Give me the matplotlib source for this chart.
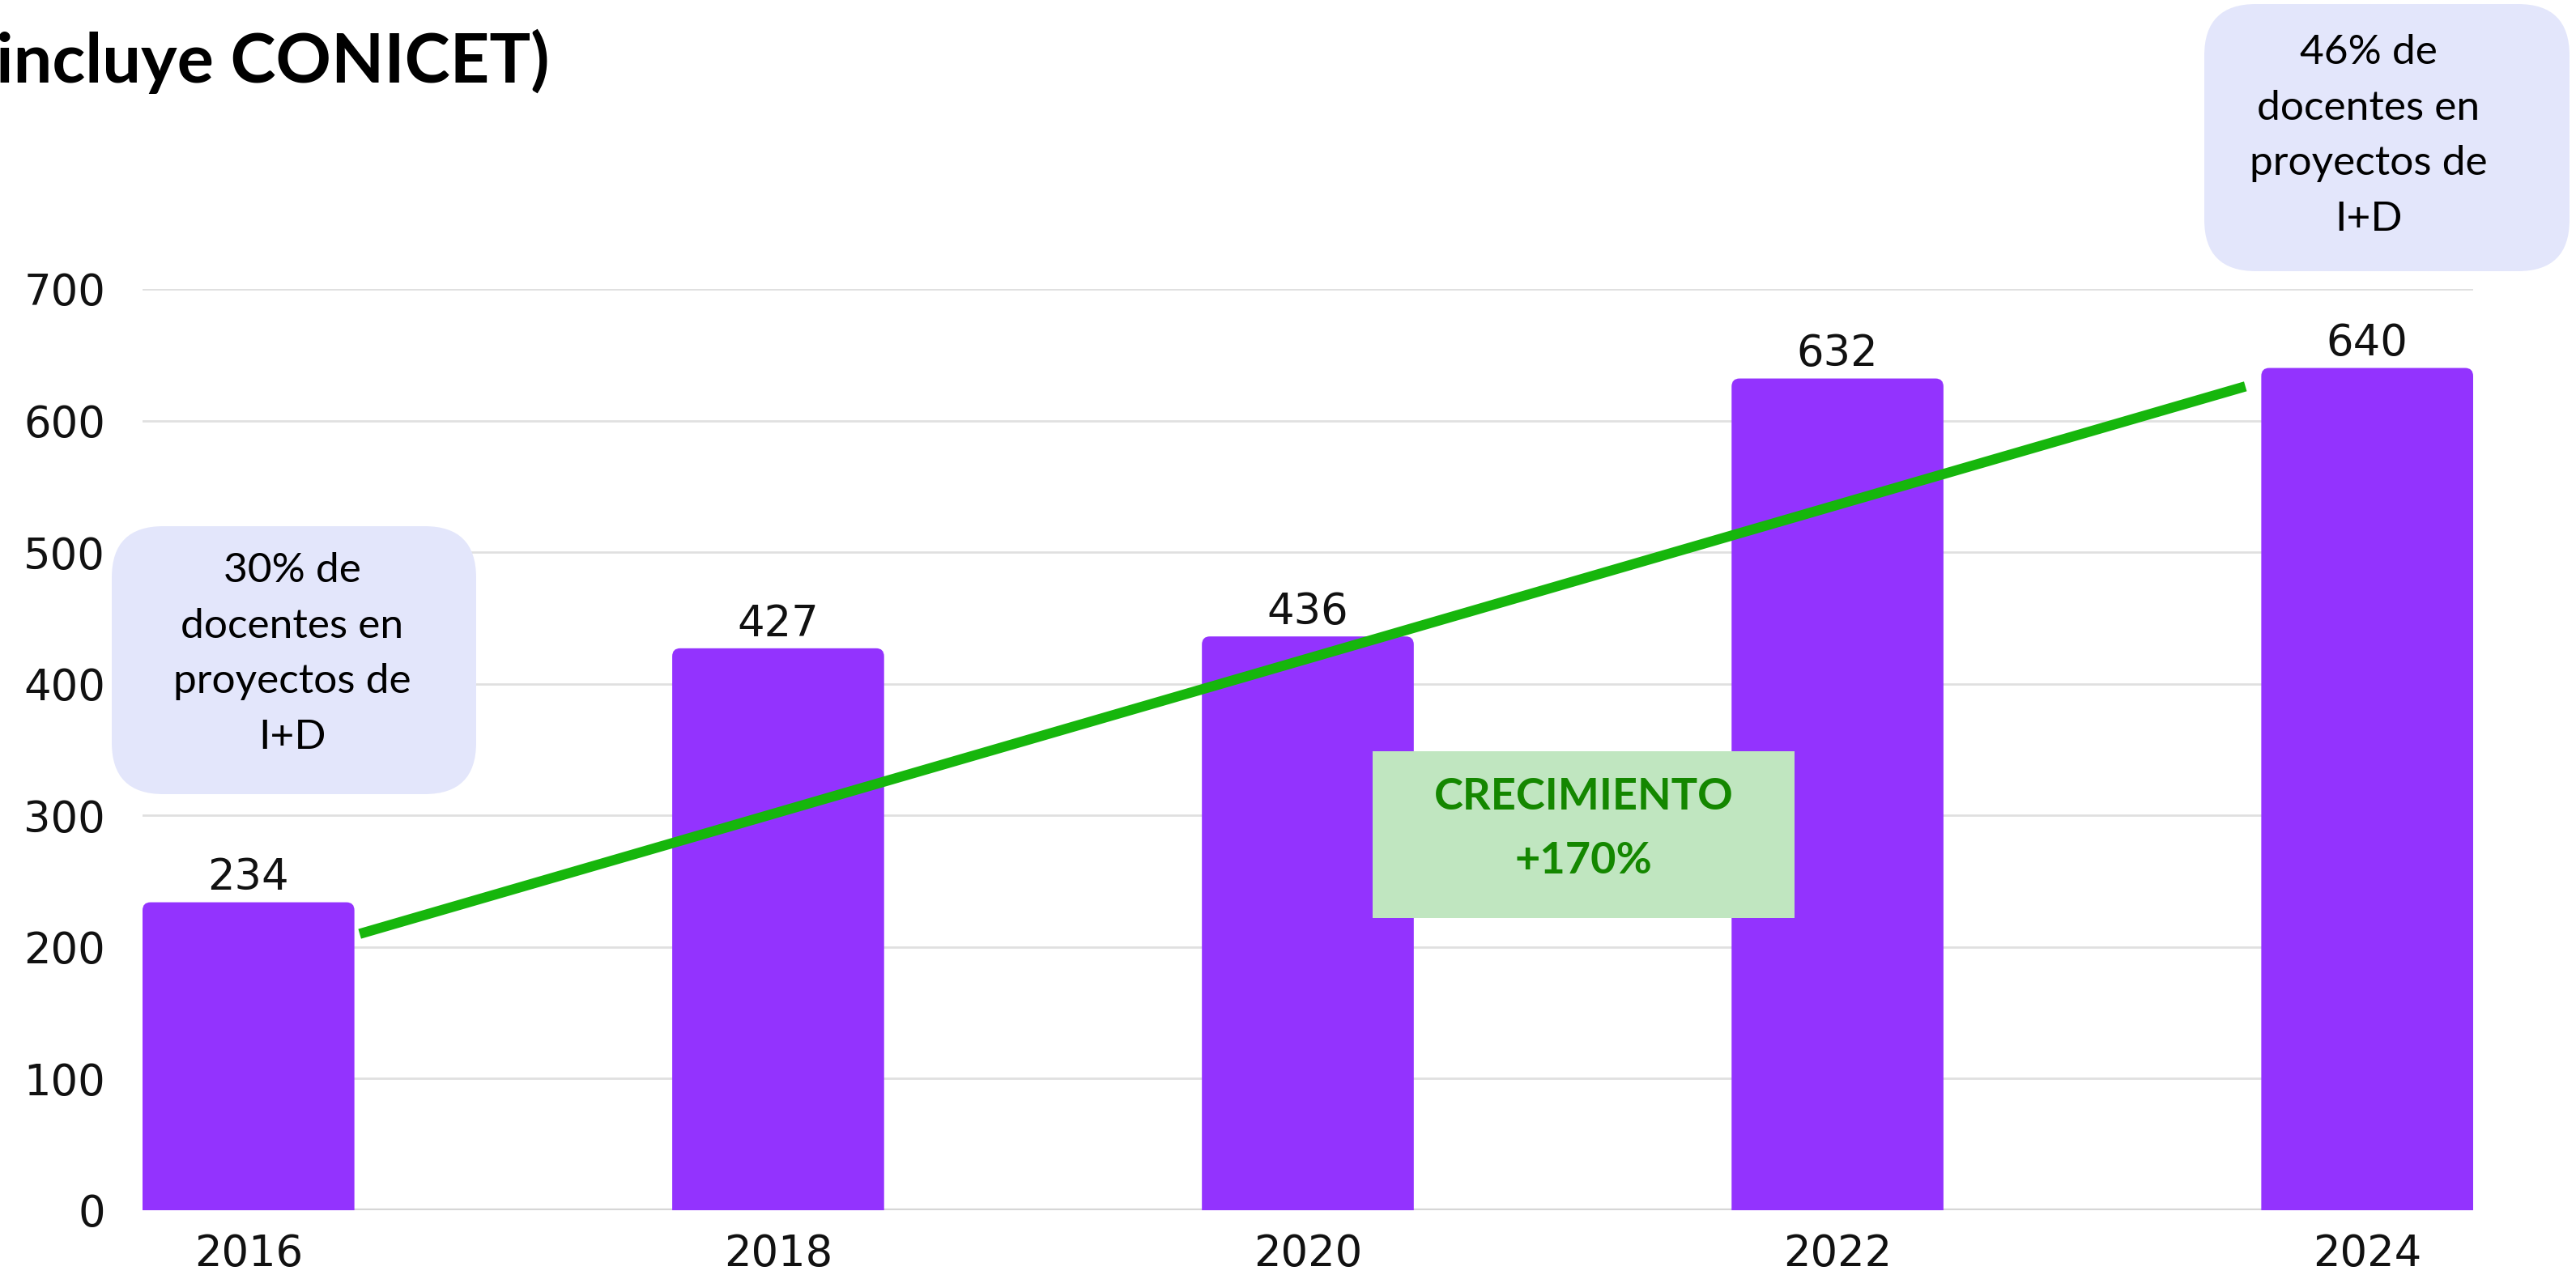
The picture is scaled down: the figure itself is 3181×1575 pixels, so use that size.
import matplotlib
matplotlib.use("Agg")
import matplotlib.pyplot as plt
from matplotlib.patches import FancyBboxPatch, Rectangle

years = ["2016", "2018", "2020", "2022", "2024"]
docentes = [234, 427, 436, 632, 640]
y_ticks = [0, 100, 200, 300, 400, 500, 600, 700]

# trend line endpoints (bar index, value)
trend_x = [0.21, 3.77]
trend_y = [210, 626]

title_text = "incluye CONICET)"
note_left = "30% de\ndocentes en\nproyectos de\nI+D"
note_right = "46% de\ndocentes en\nproyectos de\nI+D"
growth_text = "CRECIMIENTO\n+170%"

BAR_COLOR = "#9333fe"
LINE_COLOR = "#16b60c"
NOTE_COLOR = "#e3e6fb"
BOX_COLOR = "#c0e6c0"
BOX_TEXT = "#148700"

W, H = 3181, 1575
fig = plt.figure(figsize=(W / 100, H / 100), dpi=100)
ax = fig.add_axes([176 / W, 80 / H, (3054 - 176) / W, (1495 - 357) / H])

x = list(range(len(years)))
bars = ax.bar(x, docentes, width=0.4, color=BAR_COLOR, zorder=2)

# swap the plain bars for ones with slightly rounded tops
for b in bars:
    bx, bw, bh = b.get_x(), b.get_width(), b.get_height()
    b.set_visible(False)
    ax.add_patch(FancyBboxPatch(
        (bx, -20), bw, bh + 20,
        boxstyle="round,pad=0,rounding_size=0.015",
        mutation_aspect=410, fc=BAR_COLOR, ec="none", zorder=2))

for xi, v in zip(x, docentes):
    ax.annotate(str(v), (xi, v), xytext=(0, 11), textcoords="offset points",
                ha="center", va="baseline", fontsize=38, color="#111111",
                family="DejaVu Sans")

ax.plot(trend_x, trend_y, color=LINE_COLOR, linewidth=9,
        solid_capstyle="butt", zorder=4)

# growth label box
ax.add_patch(Rectangle((2.123, 222), 0.796, 127, fc=BOX_COLOR, ec="none", zorder=5))
ax.text(2.521, 290, growth_text, ha="center", va="center", fontsize=39,
        fontweight="bold", color=BOX_TEXT, family="Lato", linespacing=1.75,
        zorder=6)

ax.set_xlim(-0.2, 4.2)
ax.set_ylim(0, 700)
ax.set_xticks(x)
ax.set_xticklabels(years)
ax.set_yticks(y_ticks)
ax.tick_params(axis="both", length=0, labelsize=38, colors="#111111")
ax.tick_params(axis="x", pad=20)
ax.tick_params(axis="y", pad=33)
ax.grid(axis="y", color="#e0e0e0", linewidth=2, zorder=0)
ax.axhline(0, color="#cccccc", linewidth=3, zorder=1)
for s in ax.spines.values():
    s.set_visible(False)

# lavender notes
asp = W / H
for (x0, y0, x1, y1), (tx, ty), txt in [
        ((138, 650, 588, 981), (361, 808), note_left),
        ((2722, 5, 3173, 335), (2925, 168), note_right)]:
    fig.patches.append(FancyBboxPatch(
        (x0 / W, 1 - y1 / H), (x1 - x0) / W, (y1 - y0) / H,
        boxstyle="round,pad=0,rounding_size=0.02", mutation_aspect=asp,
        transform=fig.transFigure, fc=NOTE_COLOR, ec="none", zorder=3))
    fig.text(tx / W, 1 - ty / H, txt, ha="center", va="center", fontsize=37,
             family="Lato", color="black", linespacing=1.62, zorder=4)

fig.text(-5 / W, 1 - 102 / H, title_text, ha="left", va="baseline",
         fontsize=61, fontweight="bold", family="Lato", color="black")

plt.savefig("out.png", dpi=100)
